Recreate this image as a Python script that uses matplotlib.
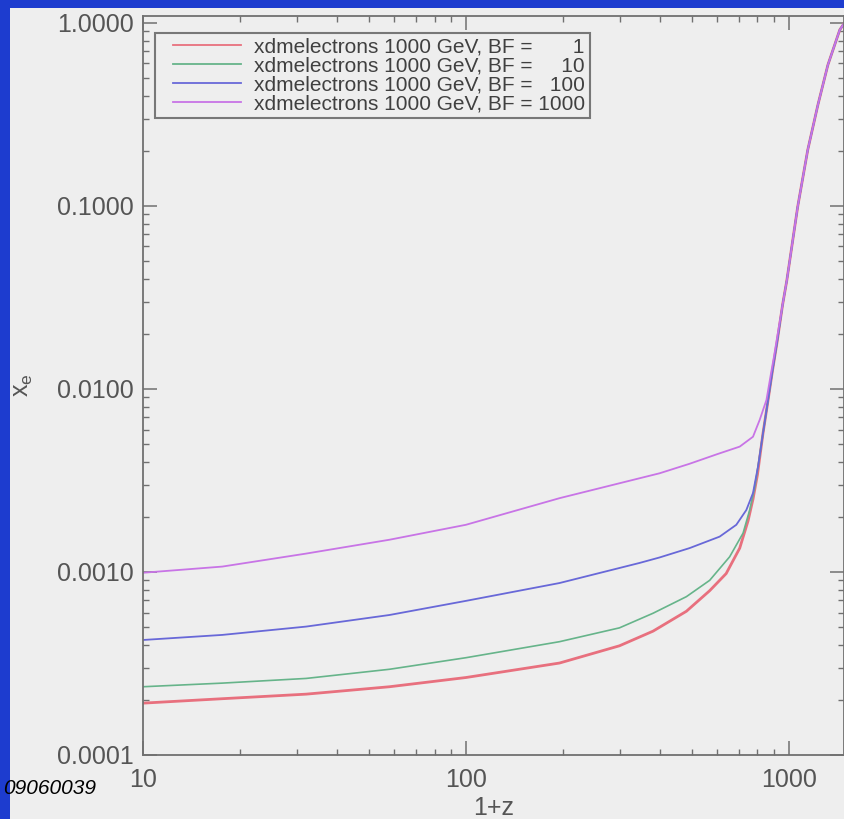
import matplotlib
matplotlib.use('Agg')
import matplotlib.pyplot as plt
from matplotlib.ticker import LogLocator, FuncFormatter, NullFormatter
from matplotlib.legend_handler import HandlerLine2D
from matplotlib.lines import Line2D
from matplotlib.patches import Rectangle

plt.rcParams['font.family'] = ['Liberation Sans', 'DejaVu Sans']
plt.rcParams['mathtext.default'] = 'regular'

# ---------------- data ----------------
z_bf1 = [10, 17.6, 32, 58, 100, 195, 299, 380, 482, 569, 640, 705, 748, 775,
         800, 832, 863, 890, 920, 957, 986, 1066, 1145, 1231, 1322, 1439, 1500]
xe_bf1 = [0.000192, 0.000203, 0.000215, 0.000236, 0.000265, 0.000318, 0.000395,
          0.000475, 0.00061, 0.00079, 0.00098, 0.00135, 0.0019, 0.0025, 0.0034,
          0.0057, 0.0087, 0.0125, 0.018, 0.0288, 0.039, 0.099, 0.202, 0.356,
          0.589, 0.916, 1.02]

z_bf10 = [10, 17.6, 32, 58, 100, 195, 299, 380, 482, 569, 656, 722, 757, 785,
          804, 832, 863, 890, 920, 957, 986, 1066, 1145, 1231, 1322, 1439, 1500]
xe_bf10 = [0.000236, 0.000247, 0.000262, 0.000294, 0.00034, 0.000416, 0.000495,
           0.000595, 0.000733, 0.0009, 0.00121, 0.00163, 0.00218, 0.0029,
           0.0038, 0.0057, 0.0087, 0.0125, 0.018, 0.0288, 0.039, 0.099, 0.202,
           0.356, 0.589, 0.916, 1.02]

z_bf100 = [10, 17.6, 32, 58, 100, 195, 345, 398, 493, 611, 688, 739, 775, 804,
           832, 863, 890, 920, 957, 986, 1066, 1145, 1231, 1322, 1439, 1500]
xe_bf100 = [0.000425, 0.000453, 0.000503, 0.000582, 0.000695, 0.00087, 0.00112,
            0.0012, 0.00135, 0.00156, 0.00181, 0.00218, 0.0027, 0.0038, 0.0057,
            0.0087, 0.0125, 0.018, 0.0288, 0.039, 0.099, 0.202, 0.356, 0.589,
            0.916, 1.02]

z_bf1000 = [10, 17.6, 32, 58, 100, 195, 345, 398, 493, 600, 705, 775, 813, 853,
            880, 900, 920, 957, 986, 1066, 1145, 1231, 1322, 1439, 1500]
xe_bf1000 = [0.00099, 0.00107, 0.00126, 0.0015, 0.00181, 0.00253, 0.00325,
             0.00346, 0.0039, 0.0044, 0.00484, 0.00548, 0.00678, 0.0087, 0.012,
             0.015, 0.019, 0.0288, 0.039, 0.099, 0.202, 0.356, 0.589, 0.916,
             1.02]

labels = ['xdmelectrons 1000 GeV, BF =       1',
          'xdmelectrons 1000 GeV, BF =     10',
          'xdmelectrons 1000 GeV, BF =   100',
          'xdmelectrons 1000 GeV, BF = 1000']

# ---------------- figure ----------------
W, H = 844, 819
BG = '#eeeeee'
fig = plt.figure(figsize=(W / 100, H / 100), dpi=100, facecolor=BG)

# slide frame (blue bands at top and left)
fig.add_artist(Rectangle((0, 1 - 8 / H), 1, 8 / H, transform=fig.transFigure,
                         facecolor='#1d3ccf', edgecolor='none', zorder=0))
fig.add_artist(Rectangle((0, 0), 10 / W, 1, transform=fig.transFigure,
                         facecolor='#1d3ccf', edgecolor='none', zorder=0))

ax = fig.add_axes([143 / W, 64 / H, (W - 143) / W, (755 - 16) / H])
ax.set_facecolor(BG)

ax.plot(z_bf1, xe_bf1, color='#e8707e', lw=2.0, label=labels[0])
ax.plot(z_bf10, xe_bf10, color='#66b48a', lw=1.2, label=labels[1])
ax.plot(z_bf100, xe_bf100, color='#6868d8', lw=1.3, label=labels[2])
ax.plot(z_bf1000, xe_bf1000, color='#c874e6', lw=1.3, label=labels[3])

ax.set_xscale('log')
ax.set_yscale('log')
ax.set_xlim(10, 1483)
ax.set_ylim(1e-4, 1.09)

ax.xaxis.set_major_locator(LogLocator(base=10, numticks=10))
ax.xaxis.set_minor_locator(LogLocator(base=10, subs=range(2, 10), numticks=20))
ax.yaxis.set_major_locator(LogLocator(base=10, numticks=10))
ax.yaxis.set_minor_locator(LogLocator(base=10, subs=range(2, 10), numticks=20))
ax.xaxis.set_major_formatter(FuncFormatter(lambda v, p: f'{v:g}'))
ax.yaxis.set_major_formatter(FuncFormatter(lambda v, p: f'{v:.4f}'))
ax.xaxis.set_minor_formatter(NullFormatter())
ax.yaxis.set_minor_formatter(NullFormatter())

ax.tick_params(which='both', direction='in', top=True, right=True,
               color='#707070', labelcolor='#555555', labelsize=18)
ax.tick_params(which='major', length=10, width=1.1)
ax.tick_params(which='minor', length=4.5, width=1.0)
ax.tick_params(axis='x', which='major', pad=9.5)
ax.tick_params(axis='y', which='major', pad=6.5)

for s in ax.spines.values():
    s.set_color('#707070')
    s.set_linewidth(1.3)

ax.set_xlabel('1+z', fontsize=18, color='#555555', labelpad=3)
ax.set_ylabel('$x_e$', fontsize=18, color='#555555')
ax.yaxis.set_label_coords(-0.154, 0.5)

leg = ax.legend(loc='upper left', bbox_to_anchor=(12 / 701, 1 - 17 / 739),
                borderaxespad=0, fontsize=15, frameon=True, fancybox=False,
                edgecolor='#777777', facecolor=BG, framealpha=1,
                handlelength=3.93, handletextpad=0.62, borderpad=0.22,
                labelspacing=0.0,
                handler_map={Line2D: HandlerLine2D(xpad=0.62)})
leg.get_frame().set_linewidth(1.5)
for t in leg.get_texts():
    t.set_color('#404040')
for l in leg.get_lines():
    l.set_linewidth(1.3)

fig.text(3 / W, 1 - 788 / H, '09060039', style='italic', fontsize=15,
         color='black', ha='left', va='center')

fig.savefig('out.png', dpi=100, facecolor=fig.get_facecolor())
